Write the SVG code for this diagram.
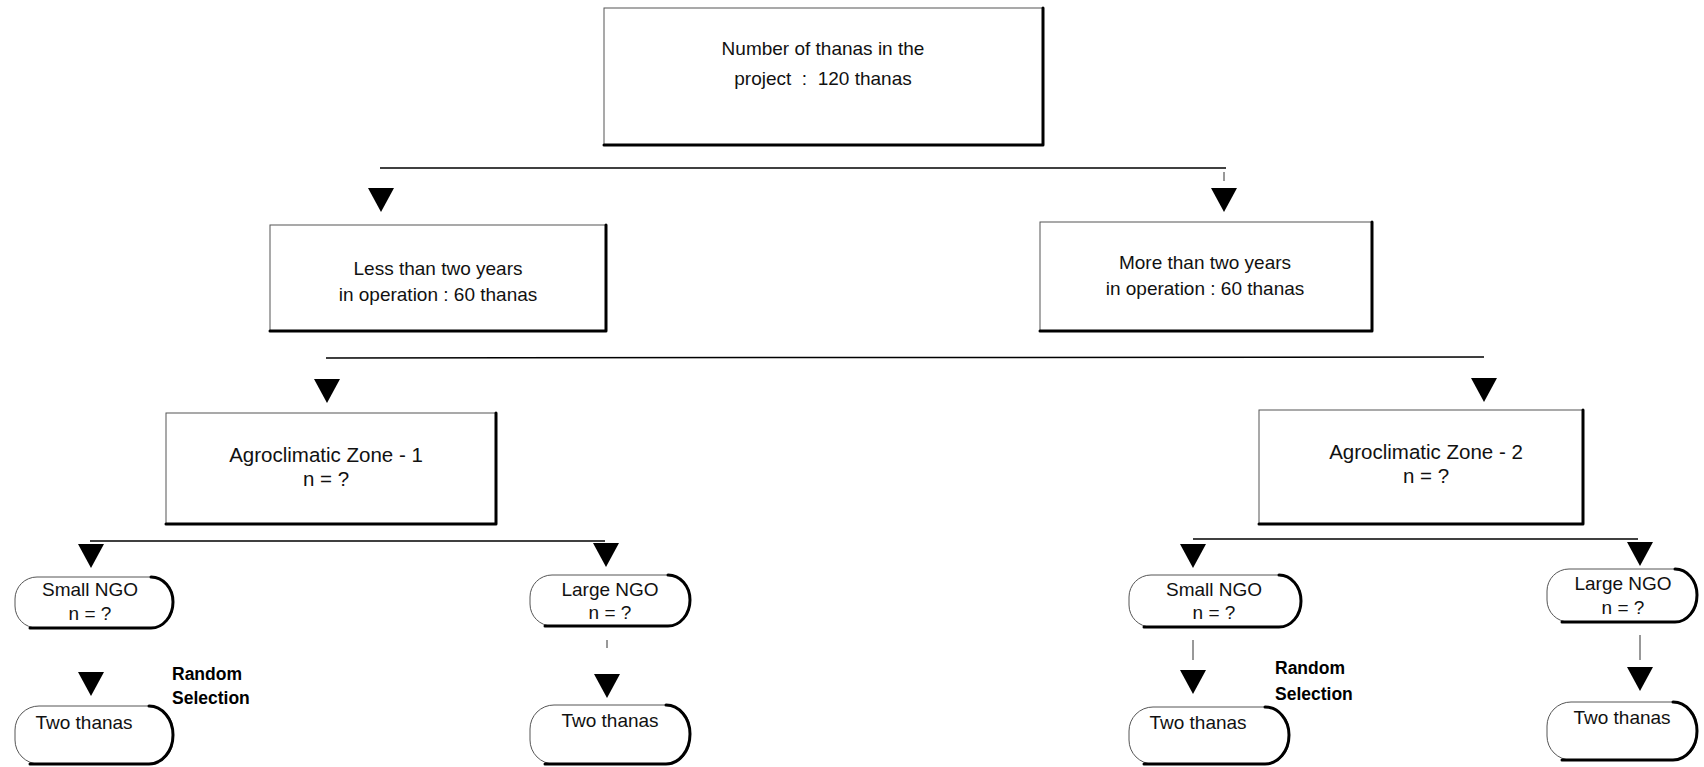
<svg xmlns="http://www.w3.org/2000/svg" xmlns:xlink="http://www.w3.org/1999/xlink" width="1704" height="767" viewBox="0 0 1704 767">
<style>
  .bg { fill: #ffffff; }
  .thin { fill: #ffffff; stroke: #555; stroke-width: 1; }
  .shade { fill: none; stroke: #000; stroke-width: 3; stroke-linejoin: round; stroke-linecap: round; }
  .t { font-family: "Liberation Sans", Arial, sans-serif; font-size: 19px; fill: #111; text-anchor: middle; white-space: pre; }
  .z { font-size: 20.5px; }
  .rs { font-family: "Liberation Sans", Arial, sans-serif; font-size: 17.5px; fill: #000; font-weight: bold; }
  .line { stroke: #000; stroke-width: 1.5; fill: none; }
  .tick { stroke: #333; stroke-width: 1; fill: none; }
</style>
<defs>
  <path id="tri" d="M-13,0 L13,0 L0,24 Z" fill="#000"/>
</defs>
<rect class="bg" x="0" y="0" width="1704" height="767"/>

<g id="connectors">
  <line class="line" x1="380" y1="168" x2="1226" y2="168"/>
  <line class="tick" x1="1224" y1="172" x2="1224" y2="181"/>
  <use xlink:href="#tri" x="381" y="188"/>
  <use xlink:href="#tri" x="1224" y="188"/>

  <line class="line" x1="326" y1="358" x2="1484" y2="357"/>
  <use xlink:href="#tri" x="327" y="379"/>
  <use xlink:href="#tri" x="1484" y="378"/>

  <line class="line" x1="90" y1="541" x2="605" y2="541"/>
  <line class="line" x1="1193" y1="539" x2="1638" y2="539"/>
  <use xlink:href="#tri" x="91" y="544"/>
  <use xlink:href="#tri" x="606" y="543"/>
  <use xlink:href="#tri" x="1193" y="544"/>
  <use xlink:href="#tri" x="1640" y="542"/>

  <line class="tick" x1="607" y1="640" x2="607" y2="648"/>
  <line class="tick" x1="1193" y1="640" x2="1193" y2="660"/>
  <line class="tick" x1="1640" y1="635" x2="1640" y2="660"/>
  <use xlink:href="#tri" x="91" y="672"/>
  <use xlink:href="#tri" x="607" y="674"/>
  <use xlink:href="#tri" x="1193" y="670"/>
  <use xlink:href="#tri" x="1640" y="667"/>
</g>

<g id="n-root">
  <rect class="thin" x="604" y="8" width="439" height="137"/>
  <polyline class="shade" points="1043,8 1043,145 604,145"/>
  <text class="t" x="823" y="55">Number of thanas in the</text>
  <text class="t" x="823" y="85">project  :  120 thanas</text>
</g>

<g id="n-less">
  <rect class="thin" x="270" y="225" width="336" height="106"/>
  <polyline class="shade" points="606,225 606,331 270,331"/>
  <text class="t" x="438" y="275">Less than two years</text>
  <text class="t" x="438" y="301">in operation : 60 thanas</text>
</g>

<g id="n-more">
  <rect class="thin" x="1040" y="222" width="332" height="109"/>
  <polyline class="shade" points="1372,222 1372,331 1040,331"/>
  <text class="t" x="1205" y="269">More than two years</text>
  <text class="t" x="1205" y="295">in operation : 60 thanas</text>
</g>

<g id="n-zone1">
  <rect class="thin" x="166" y="413" width="330" height="111"/>
  <polyline class="shade" points="496,413 496,524 166,524"/>
  <text class="t z" x="326" y="462">Agroclimatic Zone - 1</text>
  <text class="t z" x="326" y="486">n = ?</text>
</g>

<g id="n-zone2">
  <rect class="thin" x="1259" y="410" width="324" height="114"/>
  <polyline class="shade" points="1583,410 1583,524 1259,524"/>
  <text class="t z" x="1426" y="459">Agroclimatic Zone - 2</text>
  <text class="t z" x="1426" y="483">n = ?</text>
</g>

<g id="n-small1">
  <rect class="thin" x="15" y="577" width="158" height="51" rx="22"/>
  <path class="shade" d="M151,577 A22,25 0 0 1 173,602 A22,26 0 0 1 151,628 L30,628"/>
  <text class="t" x="90" y="596">Small NGO</text>
  <text class="t" x="90" y="620">n = ?</text>
</g>

<g id="n-large1">
  <rect class="thin" x="530" y="575" width="160" height="51" rx="22"/>
  <path class="shade" d="M668,575 A22,25 0 0 1 690,600 A22,26 0 0 1 668,626 L545,626"/>
  <text class="t" x="610" y="596">Large NGO</text>
  <text class="t" x="610" y="619">n = ?</text>
</g>

<g id="n-small2">
  <rect class="thin" x="1129" y="575" width="172" height="52" rx="22"/>
  <path class="shade" d="M1279,575 A22,26 0 0 1 1301,601 A22,26 0 0 1 1279,627 L1144,627"/>
  <text class="t" x="1214" y="596">Small NGO</text>
  <text class="t" x="1214" y="619">n = ?</text>
</g>

<g id="n-large2">
  <rect class="thin" x="1547" y="569" width="150" height="53" rx="22"/>
  <path class="shade" d="M1675,569 A22,26 0 0 1 1697,595 A22,27 0 0 1 1675,622 L1562,622"/>
  <text class="t" x="1623" y="590">Large NGO</text>
  <text class="t" x="1623" y="614">n = ?</text>
</g>

<g id="n-two1">
  <rect class="thin" x="15" y="706" width="158" height="58" rx="24"/>
  <path class="shade" d="M149,706 A24,29 0 0 1 173,735 A24,29 0 0 1 149,764 L30,764"/>
  <text class="t" x="84" y="729">Two thanas</text>
</g>

<g id="n-two2">
  <rect class="thin" x="530" y="705" width="160" height="59" rx="24"/>
  <path class="shade" d="M666,705 A24,29 0 0 1 690,734 A24,30 0 0 1 666,764 L545,764"/>
  <text class="t" x="610" y="727">Two thanas</text>
</g>

<g id="n-two3">
  <rect class="thin" x="1129" y="707" width="160" height="57" rx="24"/>
  <path class="shade" d="M1265,707 A24,28 0 0 1 1289,735 A24,29 0 0 1 1265,764 L1144,764"/>
  <text class="t" x="1198" y="729">Two thanas</text>
</g>

<g id="n-two4">
  <rect class="thin" x="1547" y="702" width="150" height="58" rx="24"/>
  <path class="shade" d="M1673,702 A24,29 0 0 1 1697,731 A24,29 0 0 1 1673,760 L1562,760"/>
  <text class="t" x="1622" y="724">Two thanas</text>
</g>

<g id="lbl-random1">
  <text class="rs" x="172" y="680">Random</text>
  <text class="rs" x="172" y="704">Selection</text>
</g>
<g id="lbl-random2">
  <text class="rs" x="1275" y="674">Random</text>
  <text class="rs" x="1275" y="700">Selection</text>
</g>
</svg>
